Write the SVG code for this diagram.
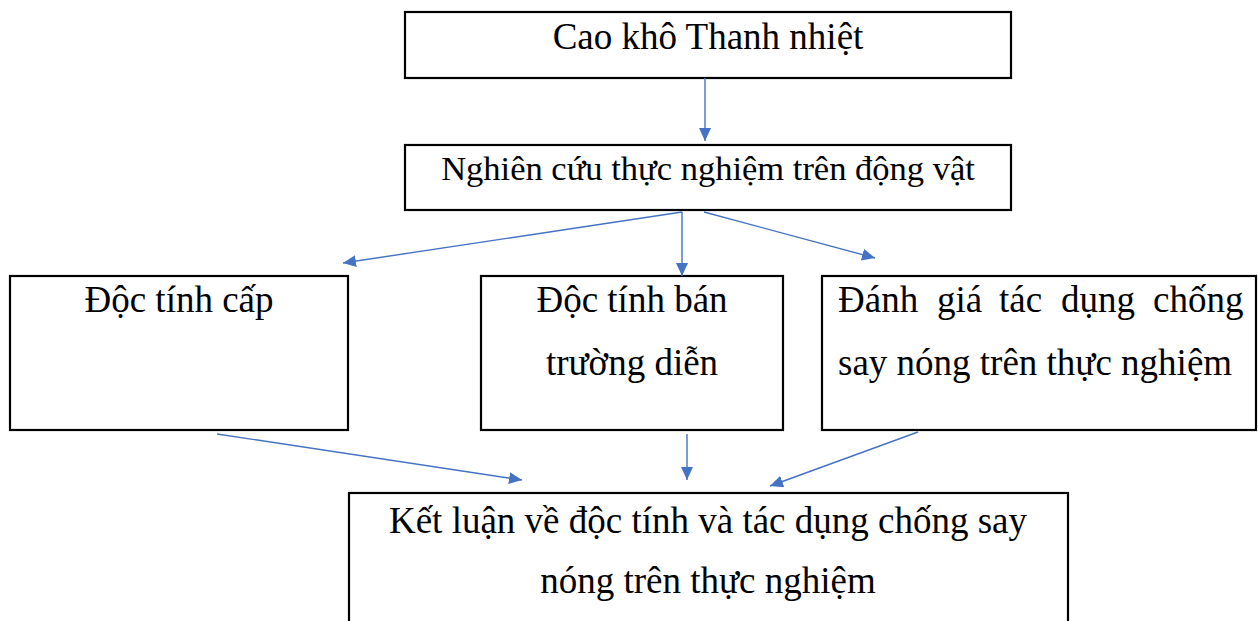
<svg xmlns="http://www.w3.org/2000/svg" width="1258" height="621" viewBox="0 0 1258 621">
<style>
.box{fill:#fff;stroke:#000;stroke-width:2.2}
.t{font-family:"Liberation Serif","Times New Roman",serif;font-size:37px;fill:#000}
.c{text-anchor:middle}
.conn{stroke:#4472C4;stroke-width:1.4;fill:none;marker-end:url(#ah)}
</style>
<defs>
<marker id="ah" markerUnits="userSpaceOnUse" markerWidth="14" markerHeight="12" refX="13" refY="6" orient="auto">
<path d="M0,0 L13,6 L0,12 z" fill="#4472C4"/>
</marker>
</defs>
<rect width="1258" height="621" fill="#fff"/>
<g id="n1"><rect class="box" x="405" y="12" width="606" height="66"/><text class="t c" x="708" y="49">Cao khô Thanh nhiệt</text></g>
<g id="n2"><rect class="box" x="405" y="145" width="606" height="65"/><text class="t c" x="708" y="180" style="font-size:34.5px">Nghiên cứu thực nghiệm trên động vật</text></g>
<g id="n3"><rect class="box" x="10" y="276" width="338" height="154"/><text class="t c" x="179" y="312">Độc tính cấp</text></g>
<g id="n4"><rect class="box" x="481" y="276" width="302" height="154"/><text class="t c" x="632" y="312">Độc tính bán</text><text class="t c" x="632" y="375">trường diễn</text></g>
<g id="n5"><rect class="box" x="822" y="276" width="434" height="154"/>
<text class="t" y="312"><tspan x="838">Đánh</tspan><tspan x="937">giá</tspan><tspan x="999">tác</tspan><tspan x="1061">dụng</tspan><tspan x="1153">chống</tspan></text>
<text class="t" x="838" y="375">say nóng trên thực nghiệm</text></g>
<g id="n6"><rect class="box" x="349" y="493" width="719" height="150"/><text class="t c" x="708" y="533">Kết luận về độc tính và tác dụng chống say</text><text class="t c" x="708" y="593">nóng trên thực nghiệm</text></g>
<g id="connectors">
<line class="conn" x1="705" y1="78" x2="705" y2="141"/>
<line class="conn" x1="682" y1="212" x2="343" y2="263"/>
<line class="conn" x1="682" y1="212" x2="682" y2="276"/>
<line class="conn" x1="704" y1="212" x2="875" y2="258"/>
<line class="conn" x1="217" y1="434" x2="522" y2="480"/>
<line class="conn" x1="687" y1="434" x2="687" y2="480"/>
<line class="conn" x1="918" y1="432" x2="770" y2="486"/>
</g>
</svg>
